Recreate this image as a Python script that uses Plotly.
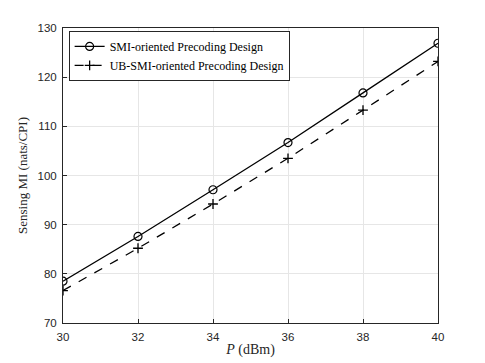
import plotly.graph_objects as go

# transmit power P (dBm)
power_dbm = [30, 32, 34, 36, 38, 40]
# sensing MI (nats/CPI)
smi_design = [78.5, 87.6, 97.1, 106.7, 116.8, 126.9]
ub_smi_design = [76.6, 85.2, 94.2, 103.5, 113.3, 123.2]

serif = "Liberation Serif"
sans = "Liberation Sans"

fig = go.Figure()
fig.add_trace(go.Scatter(
    x=power_dbm, y=smi_design, mode="lines+markers",
    name="SMI-oriented Precoding Design",
    line=dict(color="black", width=1.3),
    marker=dict(symbol="circle-open", size=8, color="black", line=dict(width=1.2))
))
fig.add_trace(go.Scatter(
    x=power_dbm, y=ub_smi_design, mode="lines+markers",
    name="UB-SMI-oriented Precoding Design",
    line=dict(color="black", width=1.3, dash="dash"),
    marker=dict(symbol="cross-thin-open", size=7, color="black", line=dict(width=1.3, color="black"))
))

axis_common = dict(
    showgrid=True, gridcolor="#e6e6e6", gridwidth=1,
    showline=True, linecolor="#262626", linewidth=1, mirror=True,
    ticks="inside", ticklen=4, tickcolor="#262626",
    tickfont=dict(family=sans, size=11.5, color="#262626"),
    zeroline=False, automargin=False,
)

# the page body adds an 8px margin, so the figure is a bit smaller
fig.update_layout(
    width=477, height=355,
    margin=dict(l=55, r=47, t=20, b=40),
    plot_bgcolor="white", paper_bgcolor="white",
    xaxis=dict(range=[30, 40], dtick=2, ticklabelstandoff=3,
               title=dict(text="<i>P</i> (dBm)", font=dict(family=serif, size=14, color="#262626"), standoff=2),
               **axis_common),
    yaxis=dict(range=[70, 130], dtick=10, ticklabelstandoff=3,
               title=dict(text="Sensing MI (nats/CPI)", font=dict(family=serif, size=13, color="#262626"), standoff=6),
               **axis_common),
    legend=dict(x=0.015, y=0.99, xanchor="left", yanchor="top",
                bgcolor="white", bordercolor="#262626", borderwidth=1,
                font=dict(family=serif, size=12, color="black"),
                tracegroupgap=0, itemwidth=30),
    showlegend=True,
)

fig.write_html("out.html")
